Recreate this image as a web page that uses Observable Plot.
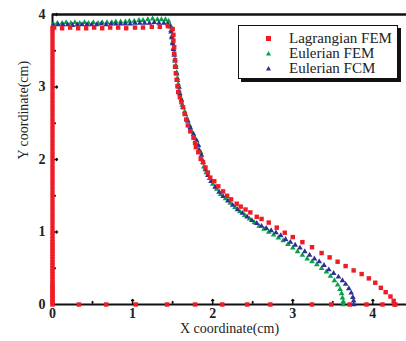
<!DOCTYPE html>
<html>
<head>
<meta charset="utf-8">
<script src="https://cdn.jsdelivr.net/npm/d3@7"></script>
<script src="https://cdn.jsdelivr.net/npm/@observablehq/plot@0.6"></script>
<style>
  html, body { margin: 0; padding: 0; background: #fff; }
  #wrap { position: relative; width: 406px; height: 341px; overflow: hidden; }
  #wrap svg text { font-family: "Liberation Serif", "Times New Roman", serif; }
  #legend { position: absolute; left: 238px; top: 25px; width: 158px; height: 52px;
    border: 1.5px solid #111; box-shadow: 3px 3px 0 #111; background: #fff;
    font-family: "Liberation Serif", "Times New Roman", serif; font-size: 15px; color: #222; }
  .row { position: absolute; left: 0; height: 15px; line-height: 15px; }
  .row span { position: absolute; left: 50px; white-space: nowrap; top: 0; }
  .row svg { position: absolute; left: 27px; top: 3px; }
</style>
</head>
<body>
<div id="wrap"></div>
<script>
const xTicks = [0, 1, 2, 3, 4];
const yTicks = [0, 1, 2, 3, 4];
const xMinor = [0.5, 1.5, 2.5, 3.5];
const yMinor = [0.5, 1.5, 2.5, 3.5];
const seriesNames = ["Lagrangian FEM", "Eulerian FEM", "Eulerian FCM"];
const seriesColors = ["#ee1c25", "#0a9f4a", "#2b3192"];

// Lagrangian FEM: left edge (x = 0)
const lagLeftY = [0,0.03,0.06,0.09,0.12,0.15,0.18,0.21,0.24,0.27,0.30,0.34,0.38,0.42,0.46,0.50,0.54,0.58,0.62,0.66,0.70,0.74,0.78,0.82,0.86,0.90,0.95,1.00,1.06,1.12,1.18,1.24,1.30,1.36,1.42,1.48,1.54,1.60,1.66,1.72,1.78,1.84,1.90,1.96,2.02,2.08,2.14,2.20,2.26,2.32,2.38,2.44,2.50,2.56,2.62,2.68,2.74,2.80,2.86,2.92,2.98,3.04,3.10,3.16,3.22,3.28,3.34,3.40,3.46,3.52,3.58,3.64,3.70,3.76,3.81];
// Lagrangian FEM: bottom edge (y = 0)
const lagBottomX = [0.33,0.67,1.04,1.43,1.78,2.12,2.43,2.72,3.24,3.48,3.71,3.92,4.12,4.27];
// Lagrangian FEM: free surface
const lagSurface = [[0.02,3.82],[0.12,3.81],[0.22,3.82],[0.32,3.81],[0.42,3.81],[0.52,3.82],[0.62,3.81],[0.72,3.82],[0.82,3.82],[0.92,3.81],[1.03,3.82],[1.13,3.82],[1.24,3.83],[1.34,3.83],[1.44,3.84],
  [1.50,3.80],[1.51,3.72],[1.51,3.64],[1.52,3.55],[1.52,3.46],[1.53,3.37],[1.53,3.28],[1.54,3.19],[1.55,3.10],[1.56,3.01],[1.57,2.93],[1.59,2.86],[1.61,2.79],[1.63,2.72],[1.65,2.63],[1.67,2.55],[1.69,2.47],[1.72,2.39],[1.76,2.30],[1.78,2.23],[1.79,2.17],[1.82,2.10],[1.85,2.01],[1.88,1.96],[1.91,1.89],[1.94,1.82],[1.97,1.75],[2.02,1.70],[2.07,1.63],[2.13,1.56],[2.18,1.50],[2.23,1.45],[2.30,1.39],[2.35,1.35],[2.41,1.31],[2.47,1.27],[2.55,1.21],[2.61,1.18],
  [2.70,1.13],[2.80,1.06],[2.90,0.99],[3.00,0.93],[3.12,0.86],[3.24,0.79],[3.36,0.71],[3.46,0.65],[3.56,0.59],[3.66,0.53],[3.76,0.47],[3.86,0.42],[3.95,0.36],[4.03,0.30],[4.10,0.23],[4.16,0.17],[4.22,0.11],[4.26,0.05],[4.28,0.0]];
// Eulerian FEM
const eulFem = [[0.01,3.87],[0.06,3.88],[0.12,3.88],[0.17,3.89],[0.23,3.88],[0.28,3.89],[0.34,3.88],[0.40,3.89],[0.45,3.88],[0.51,3.89],[0.57,3.88],[0.62,3.89],[0.68,3.89],[0.74,3.89],[0.79,3.90],[0.85,3.90],[0.91,3.90],[0.96,3.91],[1.02,3.91],[1.08,3.92],[1.13,3.92],[1.19,3.93],[1.25,3.94],[1.31,3.93],[1.36,3.93],[1.41,3.93],[1.45,3.91],
  [1.47,3.85],[1.48,3.78],[1.49,3.70],[1.50,3.62],[1.51,3.54],[1.52,3.46],[1.53,3.38],[1.54,3.30],[1.55,3.20],[1.56,3.12],[1.57,3.04],[1.58,2.95],[1.60,2.85],[1.62,2.75],[1.65,2.66],[1.68,2.56],[1.71,2.47],[1.74,2.38],[1.78,2.29],[1.82,2.20],[1.85,2.10],[1.87,2.00],[1.89,1.90],[1.92,1.82],[1.96,1.74],[2.00,1.66],[2.05,1.59],[2.10,1.52],[2.16,1.46],[2.22,1.40],[2.28,1.34],[2.34,1.28],[2.40,1.23],[2.46,1.18],[2.52,1.13],[2.58,1.08],[2.64,1.04],[2.70,1.00],[2.76,0.96],[2.82,0.92],[2.88,0.88],[2.94,0.83],[3.00,0.78],[3.06,0.73],[3.12,0.68],[3.18,0.63],[3.24,0.59],[3.30,0.55],[3.36,0.50],[3.42,0.45],[3.47,0.39],[3.52,0.33],[3.56,0.27],[3.59,0.21],[3.61,0.15],[3.62,0.09],[3.63,0.04],[3.63,0.0]];
// Eulerian FCM
const eulFcm = [[0.01,3.85],[0.07,3.86],[0.13,3.86],[0.19,3.86],[0.25,3.85],[0.31,3.86],[0.37,3.86],[0.43,3.86],[0.49,3.86],[0.55,3.86],[0.61,3.87],[0.67,3.86],[0.73,3.87],[0.79,3.87],[0.85,3.87],[0.91,3.87],[0.97,3.87],[1.03,3.88],[1.09,3.88],[1.15,3.88],[1.21,3.88],[1.27,3.89],[1.33,3.88],[1.39,3.88],[1.44,3.87],[1.47,3.83],
  [1.48,3.76],[1.49,3.68],[1.50,3.60],[1.51,3.52],[1.52,3.44],[1.53,3.36],[1.54,3.27],[1.55,3.18],[1.56,3.09],[1.58,3.00],[1.59,2.91],[1.61,2.82],[1.63,2.72],[1.66,2.62],[1.69,2.53],[1.72,2.44],[1.76,2.35],[1.80,2.26],[1.82,2.19],[1.83,2.13],[1.86,2.06],[1.88,1.96],[1.91,1.86],[1.94,1.78],[1.98,1.70],[2.03,1.62],[2.08,1.55],[2.13,1.49],[2.19,1.43],[2.25,1.37],[2.31,1.31],[2.37,1.26],[2.43,1.21],[2.49,1.16],[2.55,1.12],[2.61,1.08],[2.67,1.05],[2.73,1.02],[2.79,0.99],[2.85,0.95],[2.91,0.90],[2.97,0.86],[3.03,0.82],[3.09,0.78],[3.15,0.73],[3.21,0.68],[3.27,0.63],[3.33,0.59],[3.39,0.54],[3.45,0.48],[3.51,0.43],[3.57,0.38],[3.62,0.33],[3.66,0.28],[3.70,0.22],[3.73,0.16],[3.75,0.10],[3.76,0.05],[3.76,0.0]];

const font = "'Liberation Serif', 'Times New Roman', serif";
const lagAll = [
  ...lagLeftY.map(y => [0, y]),
  ...lagBottomX.map(x => [x, 0]),
  ...lagSurface
];

const chart = Plot.plot({
  width: 406, height: 341,
  marginLeft: 52, marginRight: 0, marginTop: 14, marginBottom: 37,
  x: {domain: [0, 4.42]},
  y: {domain: [0, 4]},
  style: {fontFamily: font, background: "transparent", overflow: "visible"},
  marks: [
    Plot.axisX({ticks: xTicks, tickFormat: d3.format("d"), tickSize: 0, tickPadding: 4, label: null, fontSize: 14, fontWeight: "bold", fill: "#222"}),
    Plot.axisY({ticks: yTicks, tickFormat: d3.format("d"), tickSize: 0, tickPadding: 7, label: null, fontSize: 14, fontWeight: "bold", fill: "#222"}),
    Plot.vector(xTicks.slice(1), {x: d => d, y: 0, length: 5, rotate: 0, anchor: "start", stroke: "#111", strokeWidth: 1.5}),
    Plot.vector(xMinor, {x: d => d, y: 0, length: 3, rotate: 0, anchor: "start", stroke: "#111", strokeWidth: 1.2}),
    Plot.vector(yTicks.slice(1), {x: 0, y: d => d, length: 5, rotate: 90, anchor: "start", stroke: "#111", strokeWidth: 1.5}),
    Plot.vector(yMinor, {x: 0, y: d => d, length: 3, rotate: 90, anchor: "start", stroke: "#111", strokeWidth: 1.2}),
    Plot.ruleY([0], {stroke: "#111", strokeWidth: 2}),
    Plot.ruleY([4], {stroke: "#111", strokeWidth: 2.5}),
    Plot.ruleX([0], {stroke: "#111", strokeWidth: 2}),
    Plot.text(["X coordinate(cm)"], {frameAnchor: "bottom", dy: 28, fontSize: 14, fill: "#222"}),
    Plot.text(["Y coordinate(cm)"], {frameAnchor: "left", dx: -29, rotate: -90, fontSize: 14, fill: "#222"}),
    Plot.dot(eulFem, {x: d => d[0], y: d => d[1], symbol: "triangle", r: 2.1, fill: seriesColors[1], stroke: "none"}),
    Plot.dot(eulFcm, {x: d => d[0], y: d => d[1], symbol: "triangle", r: 2.1, fill: seriesColors[2], stroke: "none"}),
    Plot.dot(lagAll, {x: d => d[0], y: d => d[1], symbol: "square", r: 2.5, fill: seriesColors[0], stroke: "none"})
  ]
});
const wrap = document.getElementById("wrap");
wrap.appendChild(chart);

const legend = document.createElement("div");
legend.id = "legend";
const shapes = [
  '<rect x="0" y="2" width="5" height="5" fill="COLOR"/>',
  '<path d="M2.5,2 L5,6.5 L0,6.5 Z" fill="COLOR"/>',
  '<path d="M2.5,2 L5,6.5 L0,6.5 Z" fill="COLOR"/>'
];
seriesNames.forEach((name, i) => {
  const row = document.createElement("div");
  row.className = "row";
  row.style.top = (5 + i * 15) + "px";
  row.innerHTML = `<svg width="6" height="9">${shapes[i].replace("COLOR", seriesColors[i])}</svg><span>${name}</span>`;
  legend.appendChild(row);
});
wrap.appendChild(legend);
</script>
</body>
</html>
